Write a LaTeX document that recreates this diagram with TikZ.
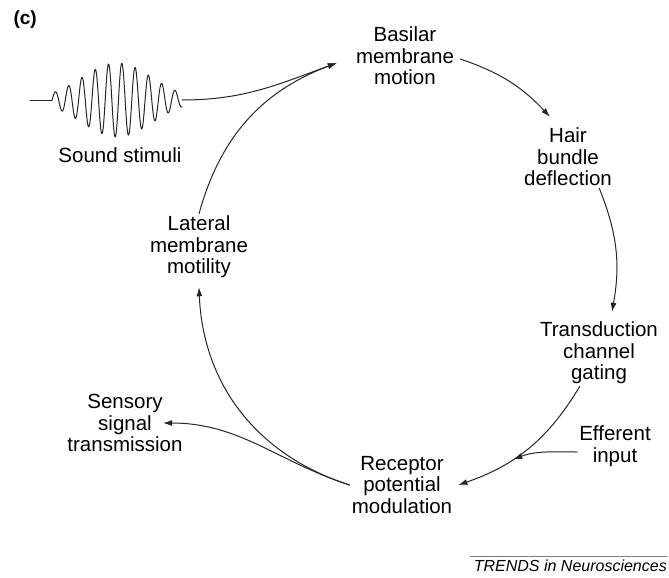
\documentclass[tikz,border=0pt]{standalone}
\usepackage{fontspec}
\setmainfont{Liberation Sans}
\usepackage{tikz}
\usetikzlibrary{arrows.meta, calc, positioning}
\newcommand{\SoundBurst}[5]{
	\def\lstart{#1}
	\def\lend{#2}
	\def\lbase{#3}
	\def\lamp{#4}
	\def\lperiod{#5}
	\draw[line width=1pt, black!85, line join=round] ($(\lstart,\lbase)+(-22,0)$) -- (\lstart,\lbase);
	\draw[line width=1pt, black!85, line join=round] plot[domain=\lstart:\lend, samples=500]
		(\x, {\lbase + \lamp*exp(-((\x-(\lstart+\lend)/2)/50)^2)*sin(360/\lperiod*(\x-\lstart))});
}

\begin{document}
\begin{tikzpicture}[x=1pt, y=1pt, line cap=round,
	stage/.style={align=center, inner sep=2pt, font=\fontsize{20.5}{21.5}\selectfont},
	flow/.style={line width=1pt, black!85, -{Latex[length=9pt, width=6pt]}}]

	\useasboundingbox (0,0) rectangle (669,-578);

	\node[anchor=west, font=\fontsize{19}{21}\selectfont\bfseries] (panel) at (10,-20) {(c)};

	% stimulus
	\SoundBurst{52}{182}{-100}{37}{13.3}
	\coordinate (wave) at (182,-100);
	\node[stage] (sound) at (120,-155) {Sound stimuli};

	% stages of the loop
	\node[stage] (basilar) at (405,-56) {Basilar\\membrane\\motion};
	\node[stage] (hair) at (568,-157) {Hair\\bundle\\deflection};
	\node[stage] (trans) at (599,-353) {Transduction\\channel\\gating};
	\node[stage] (receptor) at (402,-485) {Receptor\\potential\\modulation};
	\node[stage] (lateral) at (199,-247) {Lateral\\membrane\\motility};
	\node[stage] (efferent) at (615,-446) {Efferent\\input};
	\node[stage] (sensory) at (125,-423) {Sensory\\signal\\transmission};

	\coordinate (tip) at ([xshift=-17pt,yshift=-7pt]basilar.west);

	\draw[flow] (wave) to[out=0, in=200] (tip);
	\draw[flow] (lateral.north) to[bend left=27] (tip);
	\draw[flow] ([xshift=4pt,yshift=-3pt]basilar.east) to[bend left=14] ([xshift=-18pt,yshift=9pt]hair.north);
	\draw[flow] (hair.-45) to[bend left=16] ([xshift=13pt,yshift=8pt]trans.north);
	\draw[flow] (trans.-120) to[bend left=20] coordinate[pos=0.63] (gate) ([xshift=4pt]receptor.east);
	\draw[flow] ([yshift=-6pt]efferent.west) to[out=180, in=20] (gate);
	\draw[flow] (receptor.west) to[bend left=35] ([yshift=-7pt]lateral.south);
	\draw[flow] (receptor.west) to[out=162, in=0] ([xshift=38pt]sensory.center);

	% source line
	\draw[line width=0.5pt, gray] (470,-556) -- (667,-556);
	\node[anchor=north east, inner sep=0pt, font=\fontsize{16}{18}\selectfont\itshape] (source) at (667,-560) {TRENDS in Neurosciences};

\end{tikzpicture}
\end{document}
